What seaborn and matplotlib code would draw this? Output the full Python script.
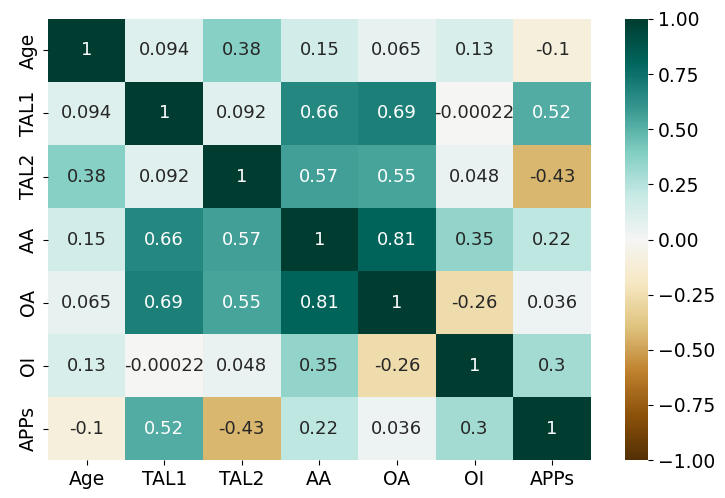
import numpy as np
import pandas as pd
import matplotlib
matplotlib.use("Agg")
import matplotlib.pyplot as plt
import seaborn as sns

# variable names and correlation rows
labels = ["Age", "TAL1", "TAL2", "AA", "OA", "OI", "APPs"]
age = [1, 0.094, 0.38, 0.15, 0.065, 0.13, -0.1]
tal1 = [0.094, 1, 0.092, 0.66, 0.69, -0.00022, 0.52]
tal2 = [0.38, 0.092, 1, 0.57, 0.55, 0.048, -0.43]
aa = [0.15, 0.66, 0.57, 1, 0.81, 0.35, 0.22]
oa = [0.065, 0.69, 0.55, 0.81, 1, -0.26, 0.036]
oi = [0.13, -0.00022, 0.048, 0.35, -0.26, 1, 0.3]
apps = [-0.1, 0.52, -0.43, 0.22, 0.036, 0.3, 1]

corr = pd.DataFrame([age, tal1, tal2, aa, oa, oi, apps], index=labels, columns=labels)

plt.rcParams["font.size"] = 13.5

fig = plt.figure(figsize=(7.25, 4.98), dpi=100)
ax = fig.add_axes([0.066, 0.076, 0.749, 0.886])
cax = fig.add_axes([0.862, 0.076, 0.032, 0.886])

sns.heatmap(corr, annot=True, cmap="BrBG", vmin=-1, vmax=1, ax=ax, cbar_ax=cax,
            annot_kws={"size": 13})
cax.tick_params(labelsize=13.5)

fig.savefig("out.png", dpi=100)
